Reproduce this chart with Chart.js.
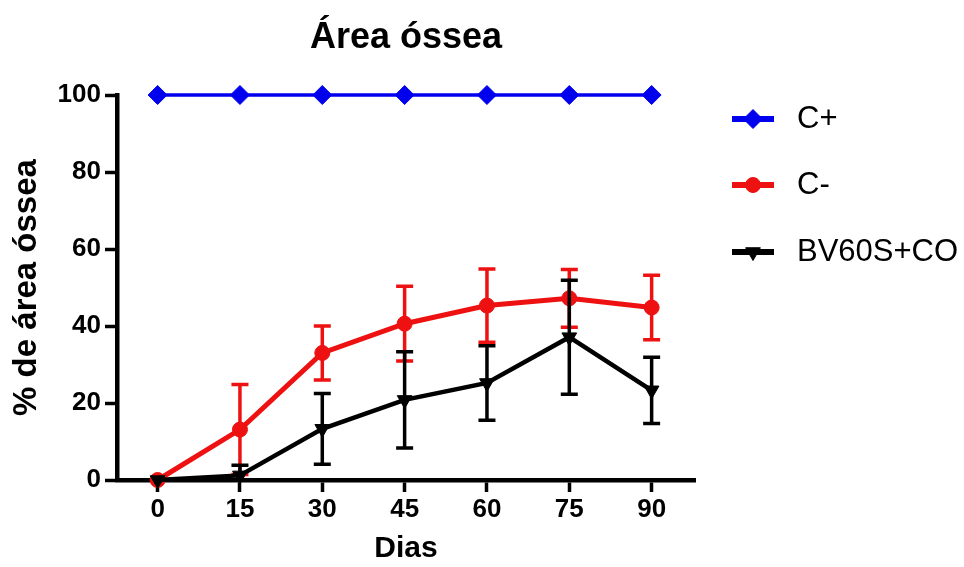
<!DOCTYPE html>
<html><head><meta charset="utf-8">
<script src="https://cdn.jsdelivr.net/npm/chart.js@4"></script>
<style>html,body{margin:0;padding:0;background:#fff}#wrap{width:964px;height:567px}</style>
</head><body><div id="wrap"><canvas id="c" width="964" height="567"></canvas></div>
<script>
const days = [0, 15, 30, 45, 60, 75, 90];
const xTickLabels = ['0', '15', '30', '45', '60', '75', '90'];
const yTickValues = [0, 20, 40, 60, 80, 100];
const seriesNames = ['C+', 'C-', 'BV60S+CO'];
const cPlus = [100, 100, 100, 100, 100, 100, 100];
const cPlusSD = [0, 0, 0, 0, 0, 0, 0];
const cMinus = [0, 13.1, 33.0, 40.6, 45.3, 47.2, 44.8];
const cMinusSD = [0, 11.7, 7.0, 9.7, 9.5, 7.5, 8.4];
const bv = [0, 1.2, 13.3, 20.8, 25.2, 37.1, 23.3];
const bvSD = [0, 2.6, 9.2, 12.5, 9.7, 14.8, 8.6];

const FONT = '"Liberation Sans", Arial, sans-serif';
const BLUE = '#0000ee', RED = '#ee1111', BLACK = '#000000';

const toPts = arr => days.map((d, i) => ({x: d, y: arr[i]}));

const errorBars = {
  id: 'errorBars',
  afterDatasetDraw(chart, args) {
    const ds = chart.data.datasets[args.index];
    if (!ds.errors) return;
    const ctx = chart.ctx, yS = chart.scales.y, a = chart.chartArea;
    ctx.save();
    ctx.beginPath();
    ctx.rect(a.left, 0, a.right - a.left + 20, a.bottom + 1);
    ctx.clip();
    ctx.strokeStyle = ds.borderColor;
    ctx.lineWidth = 3.5;
    args.meta.data.forEach((pt, i) => {
      const e = ds.errors[i];
      if (!e) return;
      const v = ds.data[i].y;
      const yt = yS.getPixelForValue(v + e), yb = yS.getPixelForValue(v - e);
      const cw = 8.5;
      ctx.beginPath();
      ctx.moveTo(pt.x, yt); ctx.lineTo(pt.x, yb);
      ctx.moveTo(pt.x - cw, yt); ctx.lineTo(pt.x + cw, yt);
      ctx.moveTo(pt.x - cw, yb); ctx.lineTo(pt.x + cw, yb);
      ctx.stroke();
    });
    ctx.restore();
  }
};

const customLegend = {
  id: 'customLegend',
  afterDraw(chart) {
    const ctx = chart.ctx;
    const rows = [119, 185, 252];
    chart.data.datasets.forEach((ds, i) => {
      const y = rows[i];
      ctx.save();
      ctx.strokeStyle = ds.borderColor;
      ctx.lineWidth = 6;
      ctx.beginPath();
      ctx.moveTo(732, y); ctx.lineTo(774, y);
      ctx.stroke();
      ctx.fillStyle = ds.borderColor;
      ctx.strokeStyle = ds.borderColor;
      ctx.lineWidth = 1;
      Chart.helpers.drawPoint(ctx, {pointStyle: ds.pointStyle, radius: ds.pointRadius, rotation: ds.pointRotation || 0, borderWidth: 1}, 753, y);
      ctx.fillStyle = '#000';
      ctx.font = '31px ' + FONT;
      ctx.textBaseline = 'middle';
      ctx.textAlign = 'left';
      ctx.fillText(ds.label, 797, y);
      ctx.restore();
    });
  }
};

new Chart(document.getElementById('c'), {
  type: 'line',
  data: {
    datasets: [
      {label: seriesNames[0], data: toPts(cPlus), errors: cPlusSD, borderColor: BLUE, backgroundColor: BLUE,
       borderWidth: 3.5, pointStyle: 'rectRot', pointRadius: 9.5, pointBackgroundColor: BLUE, pointBorderColor: BLUE, pointBorderWidth: 1, order: 2, clip: false},
      {label: seriesNames[1], data: toPts(cMinus), errors: cMinusSD, borderColor: RED, backgroundColor: RED,
       borderWidth: 5, pointStyle: 'circle', pointRadius: 7.5, pointBackgroundColor: RED, pointBorderColor: RED, pointBorderWidth: 1, order: 1, clip: false},
      {label: seriesNames[2], data: toPts(bv), errors: bvSD, borderColor: BLACK, backgroundColor: BLACK,
       borderWidth: 4.5, pointStyle: 'triangle', pointRotation: 180, pointRadius: 8.5, pointBackgroundColor: BLACK, pointBorderColor: BLACK, pointBorderWidth: 1, order: 0, clip: false}
    ]
  },
  options: {
    responsive: false,
    devicePixelRatio: 1,
    animation: false,
    layout: {padding: {left: 0, top: 0, right: 269, bottom: 0}},
    plugins: {
      legend: {display: false},
      tooltip: {enabled: false},
      title: {display: true, text: 'Área óssea', color: '#000', fullSize: false,
        font: {family: FONT, size: 36, weight: 'bold'}, padding: {top: 16.9, bottom: 34.9}}
    },
    scales: {
      x: {
        type: 'linear', min: -7.4, max: 97.9,
        afterBuildTicks: s => { s.ticks = days.map(v => ({value: v})); },
        afterFit: s => { s.height = 87; },
        ticks: {color: '#000', font: {family: FONT, size: 26, weight: 'bold'}, padding: 2.5,
          callback: (v) => xTickLabels[days.indexOf(v)] ?? ''},
        grid: {drawOnChartArea: false, drawTicks: true, tickLength: 12, tickWidth: 3.5, tickColor: '#000'},
        border: {display: true, color: '#000', width: 4.5},
        title: {display: true, text: 'Dias', color: '#000', font: {family: FONT, size: 30, weight: 'bold'}, padding: {top: 0, bottom: 0}}
      },
      y: {
        min: 0, max: 100,
        afterBuildTicks: s => { s.ticks = yTickValues.map(v => ({value: v})); },
        afterFit: s => { s.width = 117; },
        ticks: {color: '#000', font: {family: FONT, size: 26, weight: 'bold'}, padding: 4},
        grid: {drawOnChartArea: false, drawTicks: true, tickLength: 12, tickWidth: 3.5, tickColor: '#000'},
        border: {display: true, color: '#000', width: 4.5},
        title: {display: true, text: '% de área óssea', color: '#000', font: {family: FONT, size: 33, weight: 'bold'}, padding: {top: 6.7, bottom: 0}}
      }
    }
  },
  plugins: [errorBars, customLegend]
});
</script>
</body></html>
